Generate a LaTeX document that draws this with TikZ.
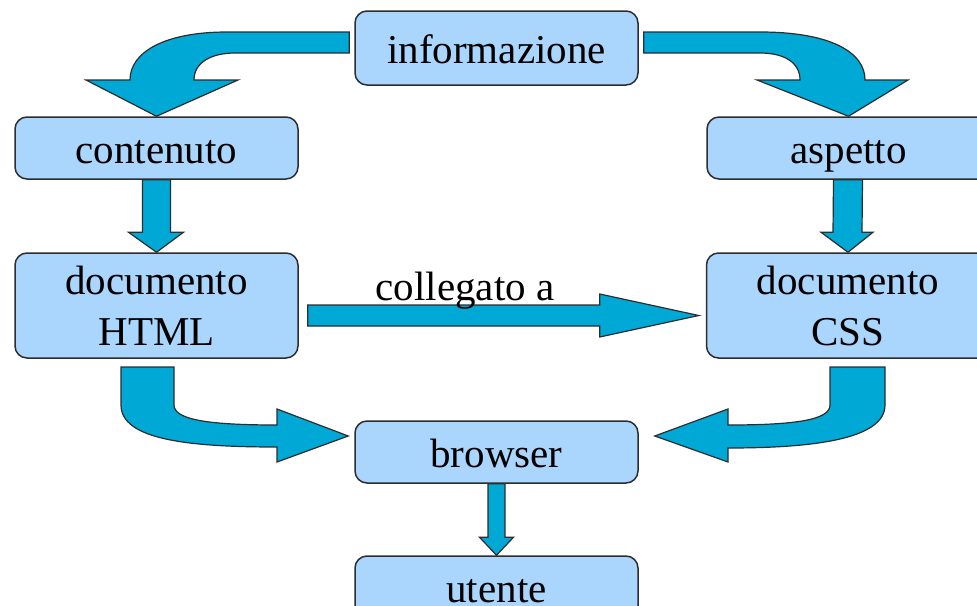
\documentclass[tikz,border=0pt]{standalone}
\usepackage{fontspec}
\setmainfont{Liberation Serif}
\usetikzlibrary{calc}
\definecolor{boxfill}{RGB}{170,214,253}
\definecolor{arrowfill}{RGB}{0,168,214}
\definecolor{edge}{RGB}{45,45,45}
\tikzset{
  box/.style={draw=edge, line width=1.5pt, fill=boxfill, rounded corners=12pt,
    minimum width=283pt, align=center, inner sep=0pt,
    font=\fontsize{41}{51}\selectfont},
  onebox/.style={box, text height=38pt, text depth=7pt},
  blk/.style={draw=edge, line width=1.2pt, fill=arrowfill, line join=miter}
}
\begin{document}
\begin{tikzpicture}[x=1pt,y=-1pt]
\clip (0,0) rectangle (977,605);
\fill[white] (0,0) rectangle (977,605);
\node[onebox, minimum height=74pt] (info) at (496.5,48) {informazione};
\node[onebox, minimum height=62pt] (contenuto) at (156.5,148) {contenuto};
\node[onebox, minimum height=62pt] (aspetto) at (848.5,148) {aspetto};
\node[box, minimum height=105pt] (html) at (156.5,305.5) {documento\\HTML};
\node[box, minimum height=105pt] (css) at (848,305.5) {documento\\CSS};
\node[onebox, minimum height=62pt] (browser) at (496.5,452) {browser};
\node[onebox, minimum height=62pt] (utente) at (496.5,587) {utente};

% informazione -> contenuto
\draw[blk] ($(info.west)+(-5,-16)$) -- (227,32) .. controls (165,32) and (130,52) .. (130,80)
  -- (86,80) -- (contenuto.north) -- (238,80) -- (194,80)
  .. controls (194,62) and (212,53) .. (235,53) -- ($(info.west)+(-5,5)$) -- cycle;
% informazione -> aspetto
\draw[blk] ($(info.east)+(5,-16)$) -- (760,32) .. controls (830,32) and (865,52) .. (865,80)
  -- (908,80) -- (aspetto.north) -- (757,80) -- (800,80)
  .. controls (800,63) and (785,53) .. (760,53) -- ($(info.east)+(5,5)$) -- cycle;

% contenuto -> html
\draw[blk] ($(contenuto.south)+(-14,0)$) -- ($(contenuto.south)+(14,0)$)
  -- ($(html.north)+(14,-20)$) -- ($(html.north)+(27,-20)$) -- (html.north)
  -- ($(html.north)+(-28,-20)$) -- ($(html.north)+(-14,-20)$) -- cycle;
% aspetto -> css
\draw[blk] ($(aspetto.south)+(-15,0)$) -- ($(aspetto.south)+(14,0)$)
  -- ($(css.north)+(14,-20)$) -- ($(css.north)+(25,-20)$) -- (css.north)
  -- ($(css.north)+(-27,-20)$) -- ($(css.north)+(-15,-20)$) -- cycle;

% html -> css (collegato a)
\draw[blk] ($(html.east)+(9,-0.5)$) -- ($(css.west)+(-106,-0.5)$)
  -- ($(css.west)+(-106,-11.5)$) -- ($(css.west)+(-7,10)$)
  -- ($(css.west)+(-106,31.5)$) -- ($(css.west)+(-106,20.5)$)
  -- ($(html.east)+(9,20.5)$) -- cycle;
\node[font=\fontsize{41}{51}\selectfont, anchor=base, inner sep=0pt] (coll) at (465,300) {collegato a};

% html -> browser
\draw[blk] (121,367) -- (174,367) -- (174,405) .. controls (174,420) and (210,425) .. (277,425)
  -- (277,409) -- ($(browser.west)+(-6,-16)$) -- (277,462) -- (277,447)
  .. controls (190,447) and (121,440) .. (121,405) -- cycle;
% css -> browser
\draw[blk] (830,367) -- (885,367) -- (885,405) .. controls (885,440) and (810,448) .. (728,448)
  -- (728,462) -- ($(browser.east)+(16,-16)$) -- (728,409) -- (728,425)
  .. controls (795,425) and (830,420) .. (830,405) -- cycle;

% browser -> utente
\draw[blk] ($(browser.south)+(-8.5,0)$) -- ($(browser.south)+(8.5,0)$)
  -- ($(utente.north)+(8.5,-18)$) -- ($(utente.north)+(17,-18)$) -- (utente.north)
  -- ($(utente.north)+(-17,-18)$) -- ($(utente.north)+(-8.5,-18)$) -- cycle;
\end{tikzpicture}
\end{document}
